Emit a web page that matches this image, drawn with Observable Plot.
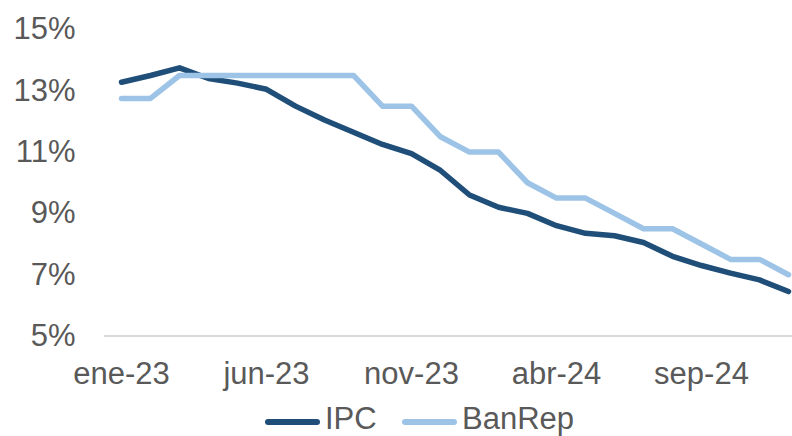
<!DOCTYPE html>
<html>
<head>
<meta charset="utf-8">
<script src="https://cdn.jsdelivr.net/npm/d3@7"></script>
<script src="https://cdn.jsdelivr.net/npm/@observablehq/plot@0.6"></script>
<style>
  html, body { margin: 0; padding: 0; background: #fff; overflow: hidden; }
  #wrap { position: relative; width: 792px; height: 436px; overflow: hidden; font-family: "Liberation Sans", Arial, sans-serif; }
  #wrap svg { overflow: hidden; }
  .lg-line { position: absolute; height: 6px; border-radius: 3px; }
  .lg-text { position: absolute; font-size: 31px; line-height: 26px; color: #595959; white-space: nowrap; }
</style>
</head>
<body>
<div id="wrap"></div>
<script>
const months = ["ene-23","feb-23","mar-23","abr-23","may-23","jun-23","jul-23","ago-23","sep-23","oct-23","nov-23","dic-23",
                "ene-24","feb-24","mar-24","abr-24","may-24","jun-24","jul-24","ago-24","sep-24","oct-24","nov-24","dic-24"];
const ipc    = [13.28, 13.5, 13.75, 13.4, 13.25, 13.05, 12.5, 12.05, 11.65, 11.25, 10.95, 10.4,
                9.6, 9.2, 9.0, 8.6, 8.35, 8.27, 8.05, 7.6, 7.3, 7.05, 6.83, 6.45];
const banrep = [12.75, 12.75, 13.5, 13.5, 13.5, 13.5, 13.5, 13.5, 13.5, 12.5, 12.5, 11.5,
                11.0, 11.0, 10.0, 9.5, 9.5, 9.0, 8.5, 8.5, 8.0, 7.5, 7.5, 7.0];
const xTicks = ["ene-23","jun-23","nov-23","abr-24","sep-24"];
const yTicks = [5, 7, 9, 11, 13, 15];
const seriesNames = ["IPC", "BanRep"];
const seriesColors = ["#1F4E79", "#9DC3E6"];

const rows = [];
months.forEach((m, i) => {
  rows.push({month: m, value: ipc[i], series: seriesNames[0]});
});
months.forEach((m, i) => {
  rows.push({month: m, value: banrep[i], series: seriesNames[1]});
});

const chart = Plot.plot({
  width: 792,
  height: 400,
  marginLeft: 104,
  marginRight: 0,
  marginTop: 29,
  marginBottom: 64.5,
  style: {fontFamily: "'Liberation Sans', Arial, sans-serif", fontSize: "31px", color: "#595959", background: "#fff", overflow: "hidden"},
  x: {type: "point", domain: months, range: [118, 790], padding: 0, label: null},
  y: {domain: [5, 15], label: null},
  marks: [
    Plot.ruleY([5], {stroke: "#D9D9D9", strokeWidth: 2}),
    Plot.axisY({ticks: yTicks, tickFormat: d => d + "%", tickSize: 0, tickPadding: 29, fill: "#595959", fontSize: 31, label: null}),
    Plot.axisX({ticks: xTicks, tickSize: 0, tickPadding: 26, fill: "#595959", fontSize: 31, label: null}),
    Plot.line(rows.filter(d => d.series === seriesNames[0]), {x: "month", y: "value", stroke: seriesColors[0], strokeWidth: 5.5, strokeLinejoin: "round", strokeLinecap: "round"}),
    Plot.line(rows.filter(d => d.series === seriesNames[1]), {x: "month", y: "value", stroke: seriesColors[1], strokeWidth: 5.5, strokeLinejoin: "round", strokeLinecap: "round"})
  ]
});

const wrap = document.getElementById("wrap");
wrap.appendChild(chart);

// legend below the chart
const legendItems = [
  {name: seriesNames[0], color: seriesColors[0], lineX: 265, textX: 325},
  {name: seriesNames[1], color: seriesColors[1], lineX: 402, textX: 462}
];
legendItems.forEach(it => {
  const ln = document.createElement("div");
  ln.className = "lg-line";
  ln.style.left = it.lineX + "px";
  ln.style.top = "419px";
  ln.style.width = "55px";
  ln.style.background = it.color;
  wrap.appendChild(ln);
  const tx = document.createElement("div");
  tx.className = "lg-text";
  tx.style.left = it.textX + "px";
  tx.style.top = "405.5px";
  tx.textContent = it.name;
  wrap.appendChild(tx);
});
</script>
</body>
</html>
